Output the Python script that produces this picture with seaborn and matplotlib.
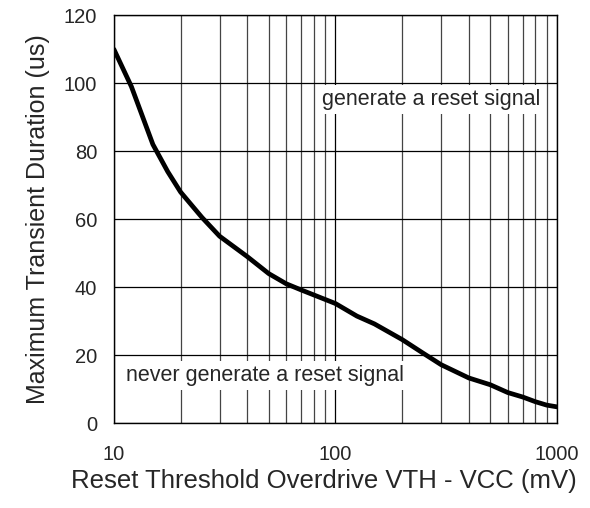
import matplotlib
matplotlib.use("Agg")
import matplotlib.pyplot as plt
import numpy as np
import pandas as pd
import seaborn as sns
from matplotlib.ticker import LogLocator, FixedLocator, NullFormatter

overdrive_mv = [10, 12, 15, 17.5, 20, 25, 30, 40, 50, 60, 70, 100, 125, 150, 200, 250, 300,
                400, 500, 600, 700, 800, 900, 1000]
transient_us = [110, 99, 82, 74, 68, 60.5, 55, 49, 44, 41, 39.2, 35.2, 31.5, 29.2, 24.6, 20.5,
                17.2, 13.3, 11.3, 9.0, 7.7, 6.3, 5.3, 4.8]
y_ticks = [0, 20, 40, 60, 80, 100, 120]
x_ticks = [10, 100, 1000]

df = pd.DataFrame({"x": overdrive_mv, "y": transient_us})

sns.set_style("white")
plt.rcParams["font.family"] = ["Liberation Sans", "DejaVu Sans"]

fig = plt.figure(figsize=(5.9, 5.08), dpi=100)
ax = fig.add_axes([0.193, 0.167, 0.751, 0.803])

sns.lineplot(data=df, x="x", y="y", ax=ax, color="black", linewidth=3.4, zorder=3)

ax.set_xscale("log")
ax.set_xlim(10, 1000)
ax.set_ylim(0, 120)
ax.xaxis.set_major_locator(FixedLocator(x_ticks))
ax.set_xticklabels([str(t) for t in x_ticks])
ax.xaxis.set_minor_locator(LogLocator(base=10, subs=np.arange(2, 10)))
ax.xaxis.set_minor_formatter(NullFormatter())
ax.set_yticks(y_ticks)

ax.grid(True, which="major", axis="x", color="black", linewidth=0.9)
ax.grid(True, which="minor", axis="x", color="#444444", linewidth=0.9)
ax.grid(True, which="major", axis="y", color="black", linewidth=0.9)
ax.set_axisbelow(True)

for s in ax.spines.values():
    s.set_color("black")
    s.set_linewidth(1.0)

ax.tick_params(axis="both", which="both", length=0, labelsize=14.5)
ax.tick_params(axis="x", pad=16)
ax.tick_params(axis="y", pad=12)
ax.set_xlabel("Reset Threshold Overdrive VTH - VCC (mV)", fontsize=18.5)
ax.xaxis.set_label_coords(0.475, -0.113)
ax.set_ylabel("Maximum Transient Duration (us)", fontsize=18, labelpad=10)

box = dict(facecolor="white", edgecolor="none", pad=3)
ax.text(87, 95.3, "generate a reset signal", fontsize=15.5, va="center", ha="left",
        bbox=box, zorder=2)
ax.text(11.3, 14, "never generate a reset signal", fontsize=15.5, va="center", ha="left",
        bbox=box, zorder=2)

fig.savefig("out.png", dpi=100)
